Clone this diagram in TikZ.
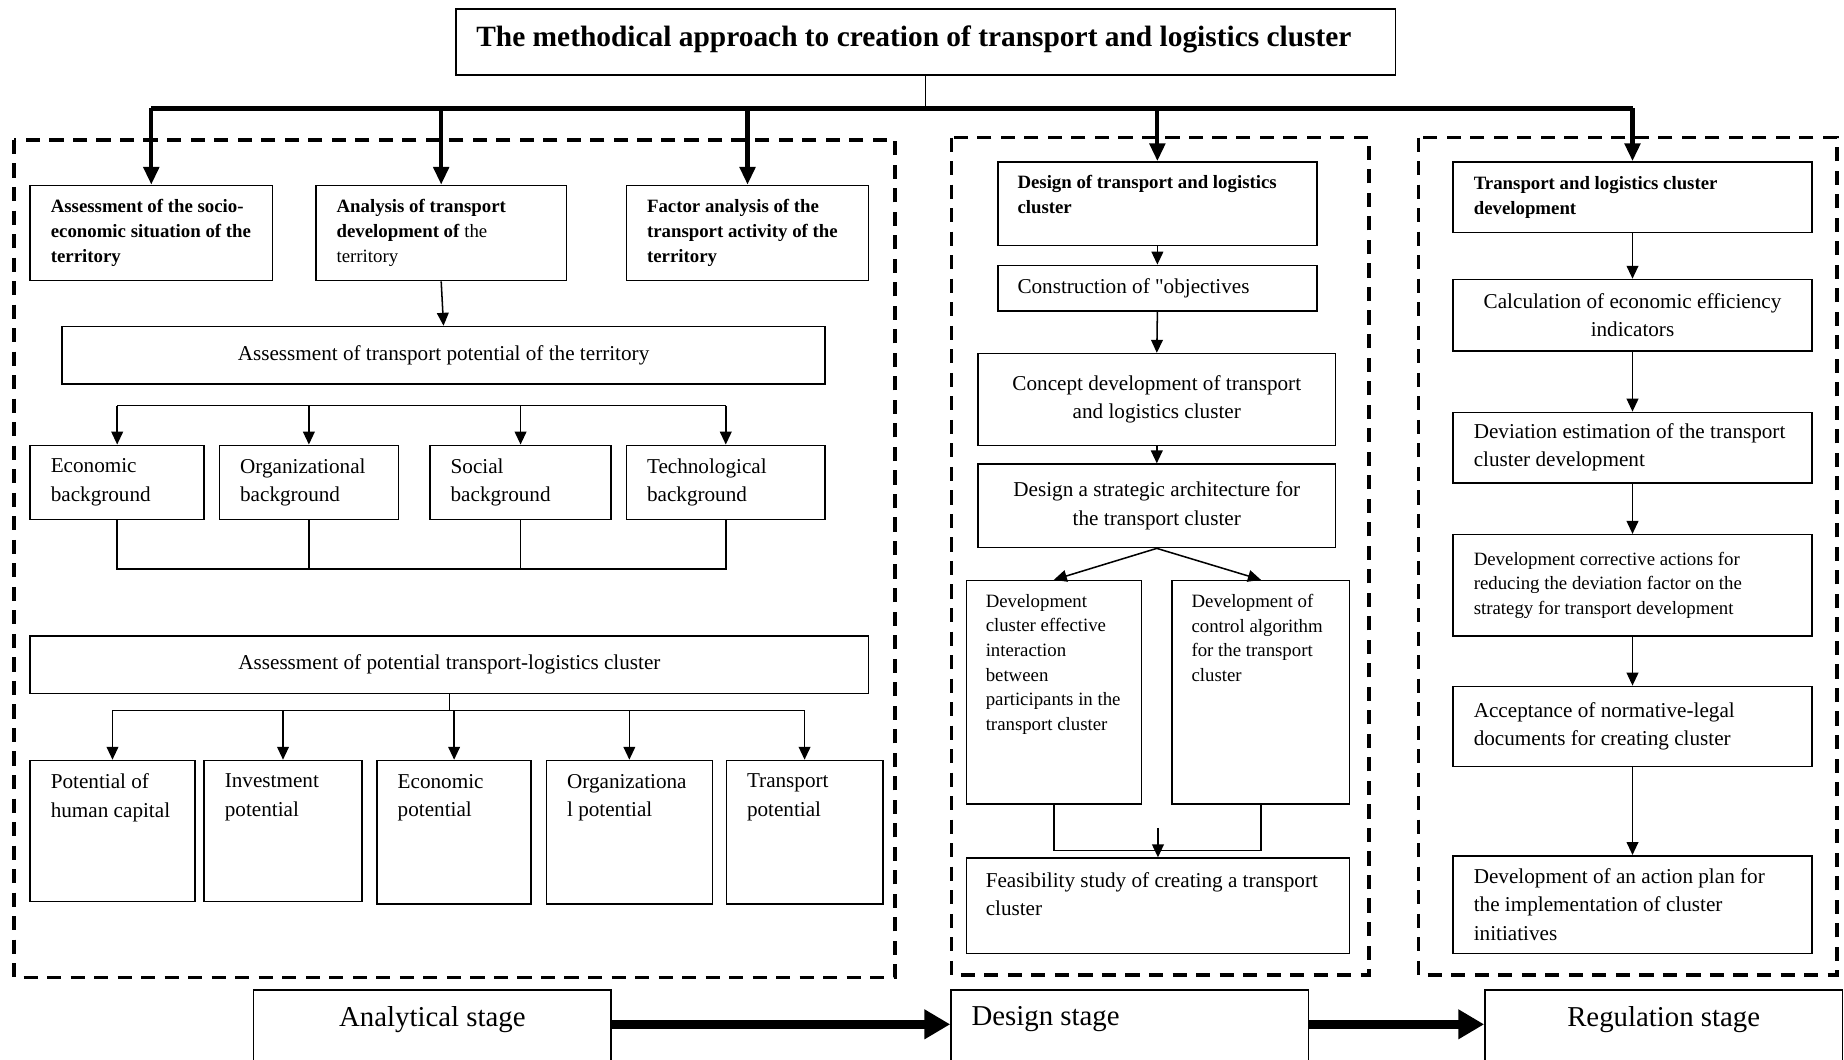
\documentclass[tikz,border=0pt]{standalone}
\usepackage{fontspec}
\setmainfont{Liberation Serif}
\usetikzlibrary{arrows.meta}
\newcommand{\fsN}{\fontsize{18}{24}\selectfont}
\newcommand{\fsS}{\fontsize{16}{21}\selectfont}
\newcommand{\fsB}{\fontsize{16}{21}\selectfont\bfseries}
\newcommand{\fsT}{\fontsize{25}{30}\selectfont\bfseries}
\newcommand{\fsG}{\fontsize{24.5}{30}\selectfont}

\begin{document}
\begin{tikzpicture}[x=1pt,y=-1pt,
  box/.style={draw,line width=1.3pt,anchor=north west,inner sep=0pt},
  sz/.style 2 args={minimum width=#1pt,minimum height=#2pt},
  lw/.style={anchor=west,align=left,inner sep=0pt,xshift=18pt},
  lt/.style={anchor=north west,align=left,inner sep=0pt,xshift=18pt},
  lc/.style={anchor=north,align=center,inner sep=0pt},
  ln/.style={line width=1.3pt},
  arr/.style={line width=1.3pt,-{Triangle[length=11pt,width=10pt]}},
  fat/.style={line width=3.5pt,-{Triangle[length=15pt,width=13pt]}},
  stagearr/.style={line width=8pt,-{Triangle[length=22pt,width=24pt]}},
  zone/.style={line width=3pt,dash pattern=on 12pt off 8pt}]
\clip (0,0) rectangle (1568,901);
\fill[white] (0,0) rectangle (1568,901);

% dashed stage frames
\draw[zone] (12,119) rectangle (761,831);
\draw[zone] (809,117) rectangle (1164,829);
\draw[zone] (1206,117) rectangle (1562,829);

\node[box,sz={799}{56},label={[lc,anchor=center,xshift=-10pt,yshift=2pt,font=\fsT]center:{The methodical approach to creation of transport and logistics cluster}}] (title) at (387,7) {};

% analytical stage
\node[box,sz={206}{81},label={[lw,font=\fsB]west:{Assessment of the socio-\\economic situation of the\\territory}}] (a1) at (25,157) {};
\node[box,sz={213}{81},label={[lw,font=\fsS]west:{\textbf{Analysis of transport}\\\textbf{development of} the\\territory}}] (a2) at (268,157) {};
\node[box,sz={206}{81},label={[lw,font=\fsB]west:{Factor analysis of the\\transport activity of the\\territory}}] (a3) at (532,157) {};
\node[box,sz={649}{49},font=\fsN] (tp) at (52,277) {Assessment of transport potential of the territory};

\node[box,sz={148}{63},label={[lw,font=\fsN]west:{Economic\\background}}] (bg1) at (25,378) {};
\node[box,sz={152}{63},label={[lw,font=\fsN]west:{Organizational\\background}}] (bg2) at (186,378) {};
\node[box,sz={154}{63},label={[lw,font=\fsN]west:{Social\\background}}] (bg3) at (365,378) {};
\node[box,sz={169}{63},label={[lw,font=\fsN]west:{Technological\\background}}] (bg4) at (532,378) {};

\node[box,sz={713}{49},font=\fsN] (clu) at (25,540) {Assessment of potential transport-logistics cluster};

\node[box,sz={140}{120},label={[lt,yshift=-12pt,font=\fsN]north west:{Potential of\\human capital}}] (pot1) at (25,646) {};
\node[box,sz={134}{120},label={[lt,yshift=-12pt,font=\fsN]north west:{Investment\\potential}}] (pot2) at (173,646) {};
\node[box,sz={131}{122},label={[lt,yshift=-12pt,font=\fsN]north west:{Economic\\potential}}] (pot3) at (320,646) {};
\node[box,sz={141}{122},label={[lt,yshift=-12pt,font=\fsN]north west:{Organizationa\\l potential}}] (pot4) at (464,646) {};
\node[box,sz={133}{122},label={[lt,yshift=-12pt,font=\fsN]north west:{Transport\\potential}}] (pot5) at (617,646) {};

% design stage
\node[box,sz={271}{71},label={[lt,xshift=-1pt,yshift=-12pt,font=\fsB]north west:{Design of transport and logistics\\cluster}}] (d1) at (848,137) {};
\node[box,sz={271}{39},label={[lw,xshift=-1pt,font=\fsN]west:{Construction of \textquotedbl objectives}}] (d2) at (848,225) {};
\node[box,sz={304}{78},font=\fsN,align=center] (d3) at (831,300) {Concept development of transport\\and logistics cluster};
\node[box,sz={304}{71},font=\fsN,align=center] (d4) at (831,394) {Design a strategic architecture for\\the transport cluster};
\node[box,sz={149}{190},label={[lt,xshift=-1pt,yshift=-12pt,font=\fsS]north west:{Development\\cluster effective\\interaction\\between\\participants in the\\transport cluster}}] (d5) at (821,493) {};
\node[box,sz={151}{190},label={[lt,xshift=-1pt,yshift=-12pt,font=\fsS]north west:{Development of\\control algorithm\\for the transport\\cluster}}] (d6) at (996,493) {};
\node[box,sz={326}{81},label={[lt,xshift=-1pt,yshift=-13pt,font=\fsN]north west:{Feasibility study of creating a transport\\cluster}}] (d7) at (821,729) {};

% regulation stage
\node[box,sz={305}{60},label={[lw,font=\fsB]west:{Transport and logistics cluster\\development}}] (r1) at (1235,137) {};
\node[box,sz={305}{61},font=\fsN,align=center] (r2) at (1235,237) {Calculation of economic efficiency\\indicators};
\node[box,sz={305}{60},label={[lw,font=\fsN]west:{Deviation estimation of the transport\\cluster development}}] (r3) at (1235,350) {};
\node[box,sz={305}{86},label={[lw,font=\fsS]west:{Development corrective actions for\\reducing the deviation factor on the\\strategy for transport development}}] (r4) at (1235,454) {};
\node[box,sz={305}{68},label={[lw,font=\fsN]west:{Acceptance of normative-legal\\documents for creating cluster}}] (r5) at (1235,583) {};
\node[box,sz={305}{83},label={[lw,font=\fsN]west:{Development of an action plan for\\the implementation of cluster\\initiatives}}] (r6) at (1235,727) {};

% stage names
\node[box,sz={304}{80},label={[lc,yshift=-15pt,font=\fsG]north:{Analytical stage}}] (st1) at (215,841) {};
\node[box,sz={304}{80},label={[lt,yshift=-15pt,font=\fsG]north west:{Design stage}}] (st2) at (808,841) {};
\node[box,sz={304}{80},label={[lc,yshift=-15pt,font=\fsG]north:{Regulation stage}}] (st3) at (1262,841) {};

% top distribution
\coordinate (bar) at (786,92);
\draw[ln] (title.south) -- (title.south |- bar);
\draw[line width=4.5pt] (a1.north |- bar) -- (r1.north |- bar);
\foreach \n in {a1,a2,a3,d1,r1}
  \draw[fat] (\n.north |- bar) -- (\n.north);

\draw[arr] (a2.south) -- (tp.north);

\coordinate (bgtop) at (358,345);
\coordinate (bgjoin) at (358,484);
\draw[ln] (bg1.north |- bgtop) -- (bg4.north |- bgtop);
\foreach \n in {bg1,bg2,bg3,bg4}
  \draw[arr] (\n.north |- bgtop) -- (\n.north);
\draw[ln] (bg1.south) |- (bgjoin) -| (bg4.south);
\draw[ln] (bg2.south) -- (bg2.south |- bgjoin);
\draw[ln] (bg3.south) -- (bg3.south |- bgjoin);

\coordinate (ptop) at (381,604);
\draw[ln] (clu.south) -- (clu.south |- ptop);
\draw[ln] (pot1.north |- ptop) -- (pot5.north |- ptop);
\foreach \n in {pot1,pot2,pot3,pot4,pot5}
  \draw[arr] (\n.north |- ptop) -- (\n.north);

\foreach \a/\b in {d1/d2,d2/d3,d3/d4,d4/d5,d4/d6}
  \draw[arr] (\a.south) -- (\b.north);
\coordinate (djoin) at (984,723);
\draw[ln] (d5.south) |- (djoin) -| (d6.south);
\draw[arr] ([yshift=25pt]d7.north) -- (d7.north);

\foreach \a/\b in {r1/r2,r2/r3,r3/r4,r4/r5,r5/r6}
  \draw[arr] (\a.south) -- (\b.north);

\draw[stagearr] ([yshift=-30pt]st1.north east) -- ([yshift=-30pt]st2.north west);
\draw[stagearr] ([yshift=-30pt]st2.north east) -- ([yshift=-30pt]st3.north west);
\end{tikzpicture}
\end{document}
